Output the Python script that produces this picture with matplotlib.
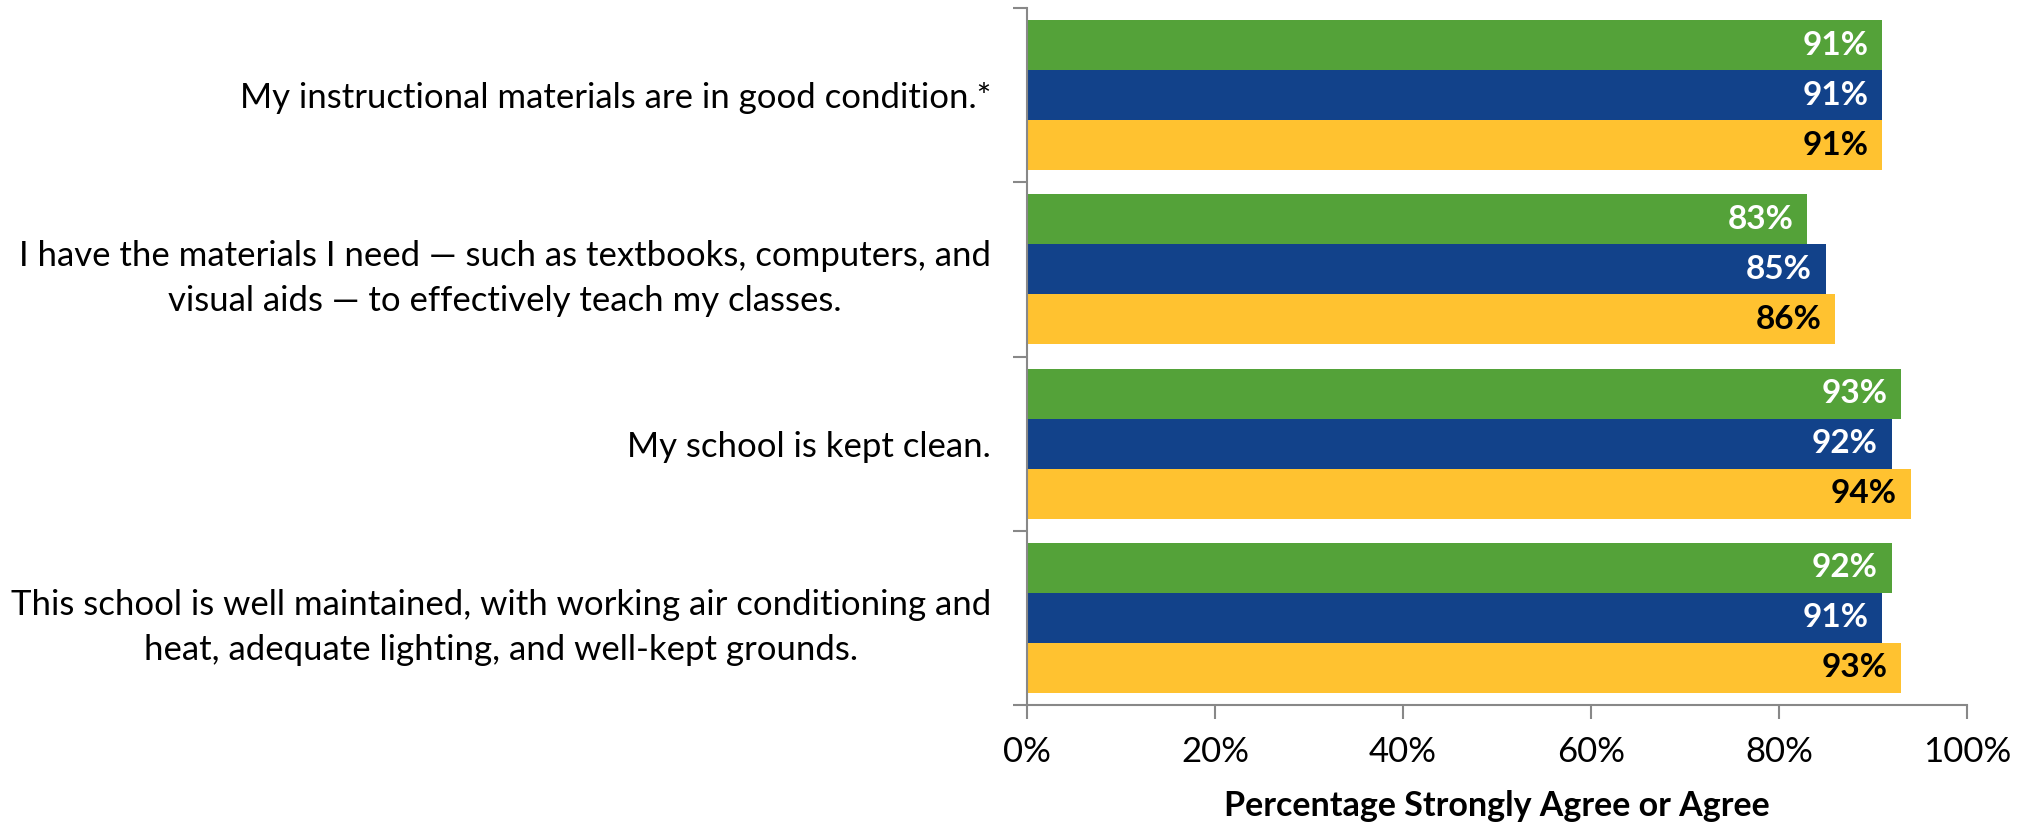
import matplotlib
matplotlib.use("Agg")
import matplotlib.pyplot as plt
import numpy as np
from matplotlib.ticker import FixedLocator, PercentFormatter

categories = [
    "My instructional materials are in good condition.*",
    "I have the materials I need \u2014 such as textbooks, computers, and\nvisual aids \u2014 to effectively teach my classes.",
    "My school is kept clean.",
    "This school is well maintained, with working air conditioning and\nheat, adequate lighting, and well-kept grounds.",
]
series_names = ["Series 1", "Series 2", "Series 3"]
series_green = [91, 83, 93, 92]
series_blue = [91, 85, 92, 91]
series_yellow = [91, 86, 94, 93]
x_ticks = [0, 20, 40, 60, 80, 100]
x_label = "Percentage Strongly Agree or Agree"

colors = ["#54A239", "#12428A", "#FFC230"]
text_colors = ["white", "white", "black"]

plt.rcParams['font.family'] = ['Lato', 'DejaVu Sans']

fig = plt.figure(figsize=(20.28, 8.25), dpi=100)
ax = fig.add_axes([1027/2028, 1-705/825, (1967-1027)/2028, (705-8)/825])

n = len(categories)
y = np.arange(n)
h = 0.287
offsets = [-h, 0, h]
for vals, c, tc, off, name in zip([series_green, series_blue, series_yellow], colors, text_colors, offsets, series_names):
    ax.barh(y + off, vals, height=h, color=c, label=name, edgecolor='none')
    for yy, v in zip(y + off, vals):
        ax.annotate(f"{v}%", xy=(v, yy), xytext=(-10, 0), textcoords='offset points',
                    ha='right', va='center', color=tc, fontsize=24, fontweight='bold')

ax.set_xlim(0, 100)
ax.set_ylim(n - 0.5, -0.5)
ax.xaxis.set_major_locator(FixedLocator(x_ticks))
ax.xaxis.set_major_formatter(PercentFormatter(decimals=0))
ax.tick_params(axis='x', length=10, width=1.5, color='#888888', labelsize=25, pad=12, direction='out')

ax.set_yticks(np.arange(n + 1) - 0.5)
ax.set_yticklabels([])
ax.set_yticks(y, minor=True)
ax.set_yticklabels(categories, minor=True, fontsize=25, ha='right', multialignment='center',
                   linespacing=1.5)
ax.tick_params(axis='y', which='minor', length=0, pad=26)
ax.tick_params(axis='y', which='major', length=10, width=1.5, color='#888888', direction='out')

for s in ['top', 'right']:
    ax.spines[s].set_visible(False)
for s in ['left', 'bottom']:
    ax.spines[s].set_color('#888888')
    ax.spines[s].set_linewidth(1.5)

ax.set_xlabel(x_label, fontsize=24.5, fontweight='bold', labelpad=16)

fig.savefig("out.png", dpi=100)
